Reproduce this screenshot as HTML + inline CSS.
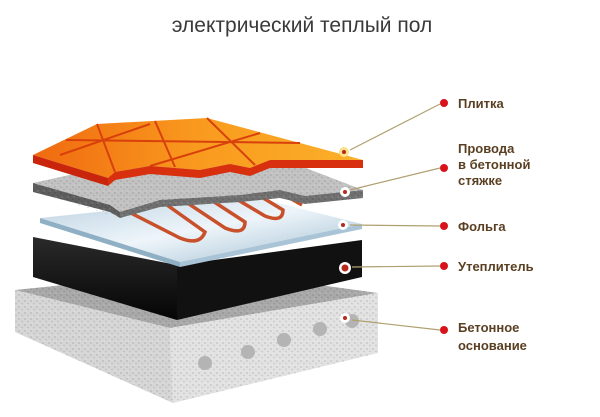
<!DOCTYPE html>
<html><head><meta charset="utf-8"><style>
body{margin:0;background:#fff}
.t{font-family:"Liberation Sans","DejaVu Sans",sans-serif;}
</style></head><body>
<svg width="600" height="412" xmlns="http://www.w3.org/2000/svg">
<defs>
<linearGradient id="tile" x1="0" y1="0" x2="1" y2="0"><stop offset="0" stop-color="#f06a10"/><stop offset=".5" stop-color="#f99a1e"/><stop offset="1" stop-color="#fbb02a"/></linearGradient>
<linearGradient id="foil" x1="0" y1="0" x2="1" y2="1"><stop offset="0" stop-color="#b9d0e0"/><stop offset=".5" stop-color="#eef5fa"/><stop offset="1" stop-color="#9dbcd0"/></linearGradient>
<linearGradient id="blk" x1="0" y1="0" x2="0" y2="1"><stop offset="0" stop-color="#2a2a2a"/><stop offset="1" stop-color="#050505"/></linearGradient>
<pattern id="sp" width="6" height="6" patternUnits="userSpaceOnUse"><circle cx="1" cy="1" r=".8" fill="#000" opacity=".18"/><circle cx="4" cy="3.5" r=".7" fill="#000" opacity=".15"/><circle cx="2" cy="5" r=".6" fill="#fff" opacity=".3"/></pattern>
</defs>
<text class="t" x="302" y="32" text-anchor="middle" font-size="21" fill="#3a3a3a">электрический теплый пол</text>
<polygon points="15,290 210,270 378,293 170,328" fill="#a9a9a9"/>
<polygon points="15,290 170,328 173,403 15,332" fill="#d6d6d6"/>
<polygon points="170,328 378,293 378,353 173,403" fill="#e2e2e2"/>
<polygon points="15,290 210,270 378,293 378,353 173,403 15,332" fill="url(#sp)"/>
<g fill="#b4b4b4"><circle cx="205" cy="363" r="7"/><circle cx="248" cy="352" r="7"/><circle cx="284" cy="340" r="7"/><circle cx="320" cy="329" r="7"/><circle cx="352" cy="321" r="7"/></g>
<polygon points="33,237 177,265 177,320 33,277" fill="url(#blk)"/>
<polygon points="177,265 362,240 362,277 177,320" fill="#111"/>
<polygon points="40,218 250,196 362,224 180,262" fill="url(#foil)"/>
<polygon points="40,218 180,262 180,267 40,223" fill="#8fb0c4"/>
<polygon points="180,262 362,224 362,229 180,267" fill="#a8c4d6"/>
<path d="M115,205 L180,238 Q200,246 205,232 L160,200 Q170,193 180,198 L225,228 Q245,236 245,222 L205,196 Q215,188 228,194 L265,216 Q283,223 283,210 L250,190 Q260,183 272,188 L302,205" fill="none" stroke="#c8502a" stroke-width="3.5"/>
<polygon points="33,183 110,166 285,160 363,190 305,196 280,190 240,195 160,200 120,212 110,205" fill="#c2c2c2"/>
<polygon points="33,183 110,205 120,212 120,218 110,212 33,192" fill="#5e5e5e"/>
<polygon points="120,212 160,200 240,195 280,190 305,196 363,190 363,198 305,204 280,198 240,202 160,207 120,218" fill="#707070"/>
<polygon points="33,183 110,166 285,160 363,190 363,198 305,204 280,198 240,202 160,207 120,218 33,192" fill="url(#sp)"/>
<polygon points="33,155 97,124 207,118 363,160 270,160 250,168 230,164 200,170 150,166 115,172 108,178" fill="url(#tile)"/>
<g stroke="#d8400c" stroke-width="2" fill="none"><path d="M66,140 L300,143"/><path d="M97,124 L115,172"/><path d="M155,121 L175,167"/><path d="M207,118 L255,165"/><path d="M150,124 L60,155"/><path d="M260,133 L150,166"/></g>
<polygon points="33,155 108,178 108,186 33,163" fill="#c8250c"/>
<polygon points="108,178 115,172 150,166 200,170 230,164 250,168 270,160 363,160 363,168 270,168 250,176 230,172 200,178 150,174 115,180 108,186" fill="#d8300e"/>
<g><circle cx="344" cy="152" r="5" fill="#ffe08a"/><circle cx="344" cy="152" r="2" fill="#b52a1a"/>
<circle cx="345" cy="192" r="5" fill="#fff"/><circle cx="345" cy="192" r="2" fill="#b52a1a"/>
<circle cx="343" cy="225" r="5" fill="#fff"/><circle cx="343" cy="225" r="2" fill="#b52a1a"/>
<circle cx="345" cy="268" r="6" fill="#fff"/><circle cx="345" cy="268" r="3.5" fill="#b52a1a"/>
<circle cx="345" cy="318" r="5" fill="#fff"/><circle cx="345" cy="318" r="2" fill="#b52a1a"/></g>
<g stroke="#b0a070" stroke-width="1.2"><line x1="350" y1="150" x2="440" y2="104"/><line x1="350" y1="190" x2="440" y2="168"/><line x1="350" y1="225" x2="440" y2="226"/><line x1="352" y1="267" x2="440" y2="266"/><line x1="352" y1="320" x2="440" y2="330"/></g>
<g fill="#d8141a"><circle cx="444" cy="103" r="4"/><circle cx="444" cy="168" r="4"/><circle cx="444" cy="226" r="4"/><circle cx="444" cy="266" r="4"/><circle cx="444" cy="330" r="4"/></g>
<g class="t" font-size="13" font-weight="bold" fill="#5a3f22">
<text x="458" y="108">Плитка</text>
<text x="458" y="153">Провода</text><text x="458" y="169">в бетонной</text><text x="458" y="185">стяжке</text>
<text x="458" y="231">Фольга</text>
<text x="458" y="271">Утеплитель</text>
<text x="458" y="332">Бетонное</text><text x="458" y="350">основание</text>
</g>
</svg>
</body></html>
